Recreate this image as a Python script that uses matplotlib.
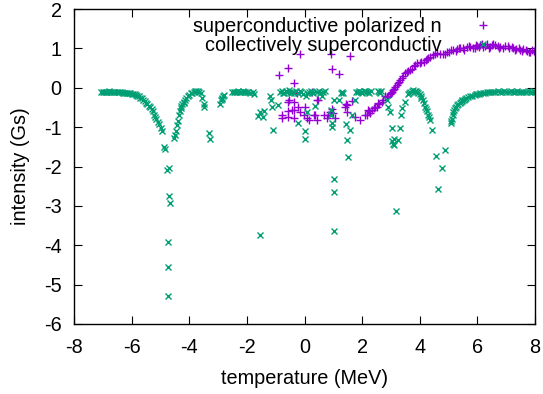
import matplotlib
matplotlib.use('Agg')
import matplotlib.pyplot as plt

plt.rcParams['font.family'] = ['Liberation Sans', 'DejaVu Sans']
plt.rcParams['axes.unicode_minus'] = False

# superconductive polarized n (purple +)
px = [-0.88, -0.56, -0.38, -0.15, 0.92, 0.94, 1.18, 1.57,
      -0.79, -0.77, -0.56, -0.38, -0.56, -0.38, -0.56, -0.35, -0.53, -0.27,
      -0.21, -0.17, -0.43, 0.03, -0.02, 0.14, 0.09, 0.25, 0.37, 0.43, 0.43,
      0.32, 0.46, 0.66, 0.78, 0.83, 0.89, 0.95, 1.0, 1.06, 1.41, 1.44, 1.47,
      1.48, 1.64, 1.76, 1.93, 2.1, 2.16, 2.22, 2.25, 2.28,
      2.34, 2.51, 2.56, 2.68, 2.8, 2.85, 2.95, 3.03, 3.1, 3.2, 3.28, 3.38,
      3.49, 3.6, 3.72, 3.8, 3.9, 4.0, 4.13, 4.25, 4.36, 4.53, 4.71, 4.88,
      5.0, 5.17, 5.3, 5.4, 5.55, 5.65, 5.75, 5.9, 6.0, 6.1, 6.27, 6.4, 6.5,
      6.62, 6.75, 6.9, 7.05, 7.2, 7.35, 7.49, 7.6, 7.72, 7.83, 7.95]
py = [0.33, 0.51, 0.12, 0.86, 0.87, 0.49, 0.34, 0.8,
      -0.69, -0.77, -0.35, -0.35, -0.59, -0.56, -0.73, -0.76, -0.31, -0.14,
      -0.48, -0.61, -0.56, -0.48, -0.69, -0.82, -0.77, -0.1, -0.69, -0.82, -0.31,
      -0.69, -0.31, -0.69, -0.77, -0.69, -0.61, -0.55, -0.65, -0.77, -0.48, -0.42, -0.61,
      -0.44, -0.33, -0.73, -0.82, -0.69, -0.69, -0.56, -0.59, -0.65,
      -0.56, -0.48, -0.39, -0.35, -0.22, -0.23, -0.15, -0.1, -0.02, 0.07, 0.15, 0.24,
      0.37, 0.42, 0.47, 0.55, 0.62, 0.64, 0.66, 0.72, 0.79, 0.86, 0.86, 0.86,
      0.9, 0.96, 0.98, 1.0, 0.97, 1.03, 1.04, 1.0, 1.06, 1.09, 1.05, 1.02, 1.08,
      1.09, 1.02, 1.0, 1.05, 1.04, 0.98, 0.96, 0.99, 0.93, 0.92, 0.94]

px2 = [2.4, 2.45, 2.6, 2.72, 2.9, 3.0, 3.06, 3.15, 3.24, 3.33, 3.43, 3.55,
       3.66, 3.85, 4.05, 4.2, 4.3, 4.45, 4.6, 4.8, 4.95, 5.1, 5.25, 5.35, 5.5,
       5.7, 5.85, 5.95, 6.05, 6.15, 6.2, 6.35, 6.45, 6.55, 6.7, 6.8, 6.95, 7.1,
       7.25, 7.3, 7.45, 7.55, 7.68, 7.78, 7.9, 8.0]
py2 = [-0.52, -0.5, -0.4, -0.3, -0.2, -0.12, -0.05, 0.02, 0.12, 0.2, 0.3, 0.4,
       0.45, 0.58, 0.65, 0.7, 0.76, 0.84, 0.88, 0.85, 0.92, 0.95, 0.93, 1.02, 1.0,
       1.06, 1.02, 1.08, 1.04, 1.1, 1.03, 1.1, 1.04, 1.1, 1.06, 1.04, 1.06, 1.0,
       1.02, 0.96, 1.0, 0.94, 0.96, 0.9, 0.95, 0.92]

# collectively superconductiv (green x)
gx = [-7.05, -6.95, -6.85, -6.75, -6.65, -6.5, -6.4, -6.3, -6.2, -6.1, -6.0,
      -5.9, -5.8, -5.7, -5.6, -5.5, -5.4, -5.3, -5.22, -5.15, -5.05, -4.98,
      -4.95, -4.87, -4.85, -4.78, -4.72, -4.7, -4.68, -4.75, -4.73, -4.75,
      -4.53, -4.5, -4.47, -4.39, -4.35, -4.3, -4.25, -4.18, -4.1, -4.01, -3.9,
      -3.8, -3.7, -3.6, -3.5, -3.48, -3.3, -3.29, -2.92, -2.9, -2.85, -2.79,
      -2.5, -2.4, -2.3, -2.2, -2.1, -2.0, -1.9, -1.8, -1.75,
      -1.62, -1.55, -1.45, -1.42, -1.2, -1.18, -1.12, -1.08, -0.92, -0.85,
      -0.78, -0.7, -0.62, -0.55, -0.48, -0.4, -0.3, -0.22, -0.23, -0.12, -0.05,
      0.0, 0.0, 0.05, 0.09, 0.15, 0.22, 0.3, 0.38, 0.45, 0.55, 0.6, 0.7, 0.92,
      0.92, 0.95, 0.96, 1.01, 1.03, 1.03, 1.03, 1.18, 1.25, 1.3, 1.44, 1.48,
      1.52, 1.58, 1.64, 1.76, 1.8, 1.88, 1.95, 2.05, 2.15, 2.25, 2.55, 2.62,
      -1.54,
      2.85, 2.9, 2.95, 3.03, 3.05, 3.08, 3.1, 3.12, 3.17, 3.26, 3.3, 3.35, 3.4,
      3.49, 3.58, 3.67, 3.78, 3.87, 3.95, 4.03, 4.1, 4.19, 4.26, 4.3, 4.36,
      4.44, 4.57, 4.65, 4.77, 4.88, 5.08, 5.11, 5.14, 5.17, 5.22, 5.29, 5.38,
      5.45, 5.52, 5.62, 5.75, 5.9, 6.0, 6.1, 6.25, 6.4, 6.55, 6.7, 6.85, 7.0,
      7.15, 7.3, 7.45, 7.6, 7.75, 7.9, 8.0]
gy = [-0.1, -0.1, -0.1, -0.1, -0.1, -0.1, -0.11, -0.12, -0.12, -0.13, -0.15,
      -0.17, -0.2, -0.25, -0.3, -0.38, -0.45, -0.55, -0.68, -0.8, -0.92, -1.02,
      -1.1, -1.5, -1.55, -2.1, -2.05, -2.75, -2.92, -3.92, -4.55, -5.28,
      -1.27, -1.2, -1.11, -0.84, -0.7, -0.51, -0.42, -0.35, -0.25, -0.18, -0.12,
      -0.08, -0.07, -0.14, -0.42, -0.5, -1.15, -1.3, -0.42, -0.32, -0.25, -0.18,
      -0.1, -0.1, -0.09, -0.1, -0.1, -0.1, -0.12, -0.1, -0.15,
      -0.71, -0.62, -0.73, -0.6, -0.22, -0.31, -0.48, -1.08, -0.44, -0.1,
      -0.08, -0.12, -0.1, -0.06, -0.12, -0.1, -0.08, -0.12, -0.9, -0.1, -0.15,
      -1.1, -1.3, -0.2, -0.62, -0.1, -0.08, -0.14, -0.45, -0.1, -0.12, -0.2, -0.09, -0.56,
      -0.7, -0.9, -1.0, -0.31, -2.32, -2.64, -3.63, -0.3, -0.12, -0.1, -0.92, -1.33,
      -1.76, -1.08, -0.69, -0.3, -0.1, -0.08, -0.1, -0.09, -0.1, -0.12, -0.08, -0.12,
      -3.75,
      -0.3, -0.48, -0.62, -1.03, -1.35, -1.42, -1.3, -1.45, -3.12, -1.33, -1.03, -0.7, -0.52,
      -0.35, -0.15, -0.1, -0.06, -0.08, -0.14, -0.22, -0.31, -0.48, -0.6, -0.69, -0.82,
      -1.07, -1.72, -2.57, -2.05, -1.58, -0.9, -0.8, -0.7, -0.61, -0.52, -0.44, -0.38,
      -0.33, -0.3, -0.26, -0.22, -0.18, -0.15, -0.14, -0.12, -0.1, -0.1, -0.09, -0.1, -0.1,
      -0.09, -0.1, -0.1, -0.1, -0.09, -0.1, -0.1]

gx2 = [-7.0, -6.9, -6.8, -6.7, -6.6, -6.45, -6.35, -6.25, -6.15, -6.05, -5.95,
       -5.85, -5.75, -5.65, -5.55, -5.45, -5.35, -5.27, -5.18, -5.1,
       -4.43, -4.33, -4.28, -4.2, -4.14, -4.05, -3.95, -3.85, -3.75, -3.65, -3.55,
       -2.88, -2.82, -2.45, -2.35, -2.25, -2.15, -2.05, -1.95,
       -0.75, -0.65, -0.5, -0.35, -0.15, 0.1, 0.25, 0.5, 0.65, 1.35, 1.85, 2.0,
       2.1, 2.2, 2.3, 2.6, 2.65,
       3.62, 3.72, 3.82, 3.9, 4.0, 4.06, 4.14, 4.22, 4.33, 5.1, 5.2, 5.25, 5.33,
       5.42, 5.48, 5.57, 5.68, 5.82, 5.95, 6.05, 6.18, 6.32, 6.48, 6.62, 6.78,
       6.92, 7.08, 7.22, 7.38, 7.52, 7.68, 7.82, 7.95]
gy2 = [-0.1, -0.1, -0.09, -0.1, -0.1, -0.11, -0.11, -0.12, -0.13, -0.14, -0.16,
       -0.18, -0.22, -0.27, -0.33, -0.41, -0.5, -0.6, -0.73, -0.86,
       -0.95, -0.6, -0.47, -0.38, -0.3, -0.21, -0.14, -0.1, -0.07, -0.1, -0.25,
       -0.28, -0.2, -0.1, -0.1, -0.11, -0.09, -0.1, -0.11,
       -0.12, -0.08, -0.1, -0.12, -0.08, -0.12, -0.1, -0.08, -0.1, -0.12, -0.1, -0.12,
       -0.08, -0.1, -0.09, -0.1, -0.08,
       -0.12, -0.08, -0.07, -0.1, -0.17, -0.26, -0.38, -0.54, -0.75, -0.85, -0.56, -0.48, -0.41,
       -0.35, -0.32, -0.28, -0.24, -0.2, -0.16, -0.15, -0.13, -0.11, -0.1, -0.1, -0.1,
       -0.09, -0.1, -0.1, -0.09, -0.1, -0.1, -0.1, -0.09]

fig = plt.figure(figsize=(5.43, 3.94), dpi=100)
ax = fig.add_axes([0.1363, 0.1777, 0.8490, 0.7993])

ax.plot(px + px2, py + py2, linestyle='none', marker='+', color='#9400d3',
        markersize=6, markeredgewidth=1, label='superconductive polarized n')
ax.plot(gx + gx2, gy + gy2, linestyle='none', marker='x', color='#009e73',
        markersize=5, markeredgewidth=1, label='collectively superconductiv')

ax.set_xlim(-8, 8)
ax.set_ylim(-6, 2)
ax.set_xticks(range(-8, 9, 2))
ax.set_yticks(range(-6, 3, 1))
ax.tick_params(direction='in', top=True, right=True, length=6, labelsize=14.3)
ax.tick_params(axis='x', pad=10)
ax.tick_params(axis='y', pad=9)
for s in ax.spines.values():
    s.set_linewidth(1)

ax.set_xlabel('temperature (MeV)', fontsize=14.3, labelpad=9)
ax.set_ylabel('intensity (Gs)', fontsize=14.3, labelpad=10)

ax.legend(loc='upper right', frameon=False, markerfirst=False, fontsize=14.3,
          handlelength=2.9, handletextpad=0.6, labelspacing=0.0,
          borderaxespad=0, bbox_to_anchor=(0.966, 1.0))

fig.savefig('out.png', dpi=100)
